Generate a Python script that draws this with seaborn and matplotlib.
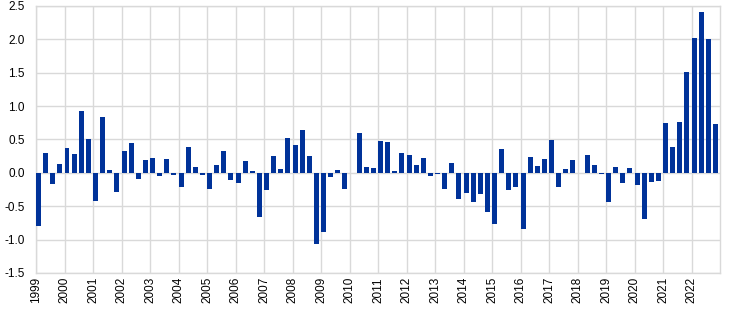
import matplotlib
matplotlib.use("Agg")
import matplotlib.pyplot as plt
import seaborn as sns
import pandas as pd
from matplotlib.ticker import FixedLocator, FuncFormatter

years = list(range(1999, 2023))
quarters = ["Q1", "Q2", "Q3", "Q4"]
values = [
    -0.80, 0.29, -0.175, 0.125,     # 1999
    0.375, 0.285, 0.92, 0.50,       # 2000
    -0.415, 0.84, 0.035, -0.28,     # 2001
    0.33, 0.44, -0.09, 0.185,       # 2002
    0.225, -0.05, 0.21, -0.035,     # 2003
    -0.21, 0.38, 0.085, -0.035,     # 2004
    -0.235, 0.115, 0.33, -0.105,    # 2005
    -0.16, 0.17, 0.03, -0.66,       # 2006
    -0.255, 0.245, 0.05, 0.515,     # 2007
    0.415, 0.635, 0.245, -1.065,    # 2008
    -0.885, -0.065, 0.035, -0.24,   # 2009
    0.0, 0.59, 0.085, 0.065,        # 2010
    0.475, 0.465, 0.02, 0.30,       # 2011
    0.265, 0.115, 0.22, -0.05,      # 2012
    -0.015, -0.235, 0.14, -0.39,    # 2013
    -0.30, -0.44, -0.32, -0.58,     # 2014
    -0.76, 0.35, -0.25, -0.215,     # 2015
    -0.84, 0.24, 0.095, 0.21,       # 2016
    0.495, -0.22, 0.05, 0.195,      # 2017
    0.0, 0.27, 0.11, -0.02,         # 2018
    -0.435, 0.085, -0.15, 0.075,    # 2019
    -0.185, -0.695, -0.135, -0.13,  # 2020
    0.75, 0.38, 0.765, 1.51,        # 2021
    2.015, 2.405, 2.01, 0.735,      # 2022
]
y_ticks = [-1.5, -1.0, -0.5, 0.0, 0.5, 1.0, 1.5, 2.0, 2.5]

periods = [f"{y}{q}" for y in years for q in quarters]
df = pd.DataFrame({"period": periods, "value": values})

sns.set_theme(style="white")
plt.rcParams["font.family"] = ["Liberation Sans", "DejaVu Sans"]

fig = plt.figure(figsize=(7.44, 3.13), dpi=100)
ax = fig.add_axes([0.0484, 0.128, 0.9194, 0.853])

sns.barplot(data=df, x="period", y="value", order=periods, color="#003299",
            saturation=1, width=0.7, linewidth=0, ax=ax, zorder=3)

grid_c = "#d9d9d9"
ax.set_xlim(-0.35, len(periods) - 0.35)
ax.set_ylim(-1.5, 2.5)
ax.yaxis.set_major_locator(FixedLocator(y_ticks))
ax.yaxis.set_major_formatter(FuncFormatter(lambda v, p: f"{v:.1f}"))
year_pos = [4 * i - 0.35 for i in range(len(years))]
ax.set_xticks(year_pos)
ax.set_xticklabels([str(y) for y in years], rotation=90)
ax.grid(True, axis="both", color=grid_c, linewidth=1, zorder=0)
ax.set_axisbelow(True)
for s in ax.spines.values():
    s.set_color(grid_c)
    s.set_linewidth(1)
ax.tick_params(axis="both", length=0, labelsize=8.5, colors="#000000", pad=3)
ax.tick_params(axis="y", pad=8)
ax.set_xlabel("")
ax.set_ylabel("")

fig.savefig("out.png", dpi=100)
